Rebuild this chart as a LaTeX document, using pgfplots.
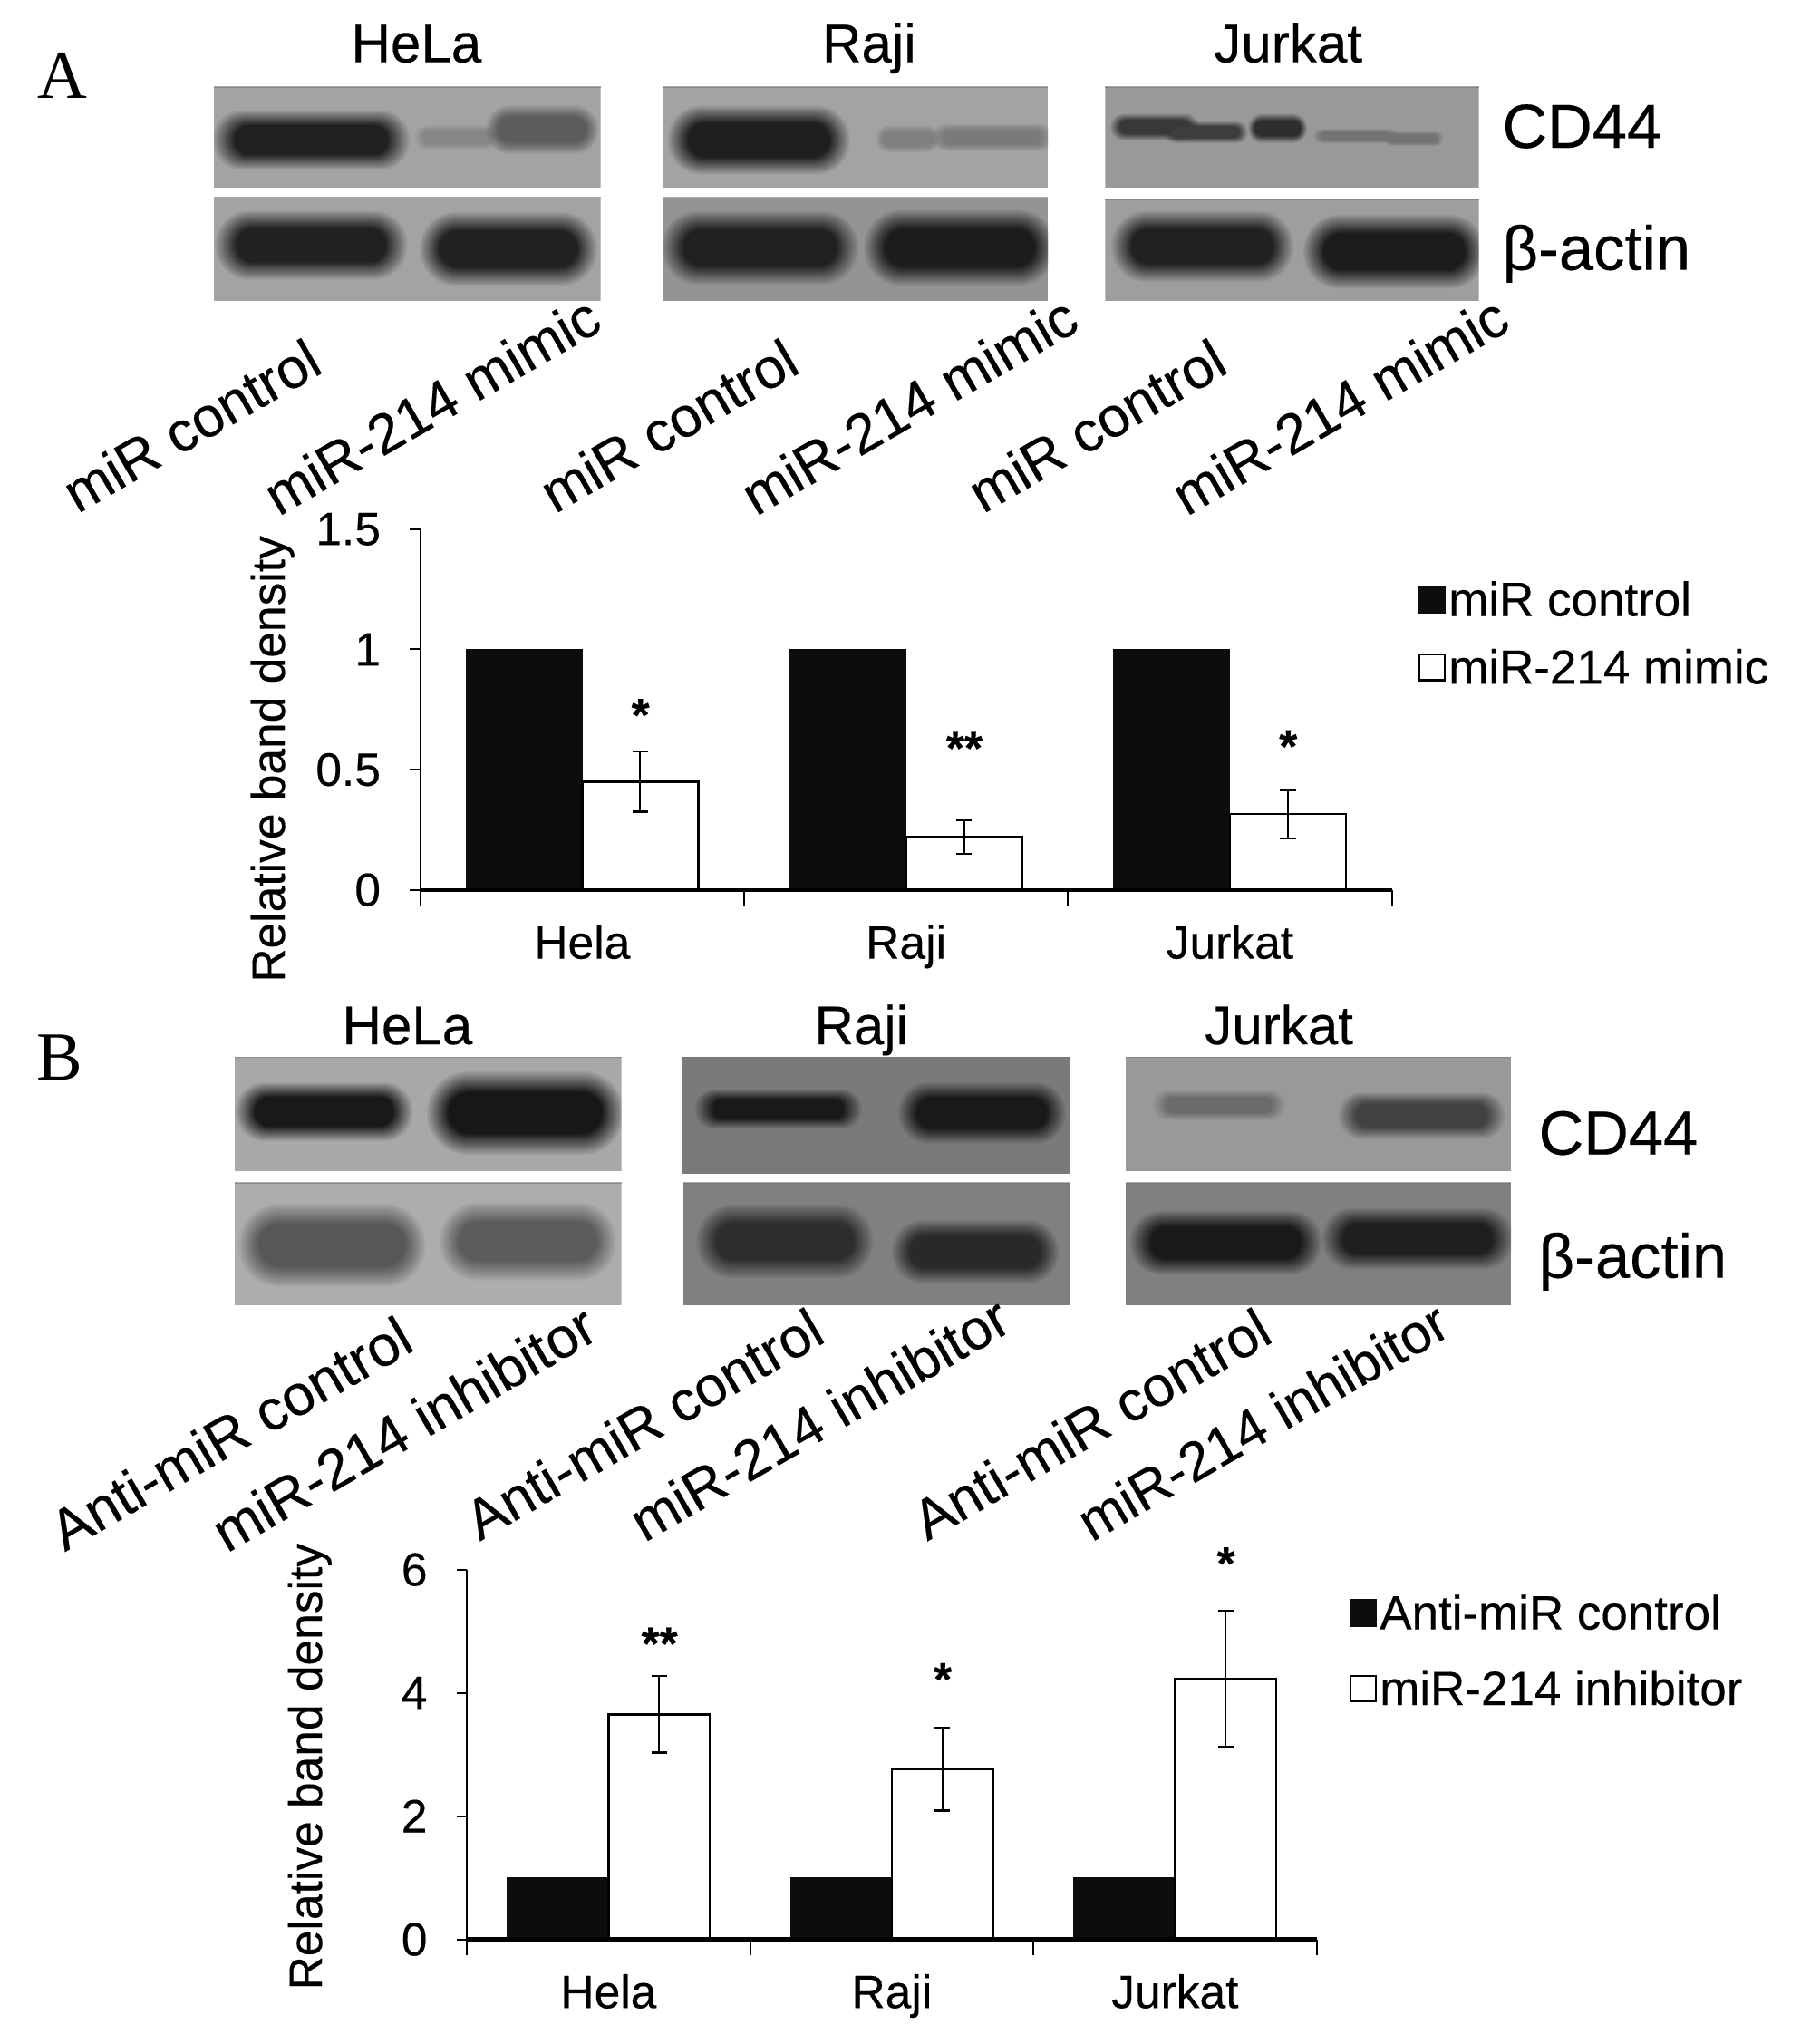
\documentclass[border=0pt]{standalone}
\usepackage{fontspec}
\setmainfont{Liberation Sans}[FakeBold=0.25]
\newfontfamily\serifA{Liberation Serif}
\usepackage{pgfplots}
\pgfplotsset{compat=1.18}
\newcommand\fa{\fontsize{36}{40}\selectfont}
\newcommand\fl{\fontsize{37}{40}\selectfont}
\definecolor{barblack}{gray}{0.05}
\definecolor{bandc}{gray}{0.15}
\definecolor{bgc}{gray}{0.62}
% x1 y1 x2 y2 background bands
\newcommand\blot[6]{%
  \definecolor{bgc}{gray}{#5}%
  \begin{scope}
    \clip (#1,#2) rectangle (#3,#4);
    \fill[bgc] (#1,#2) rectangle (#3,#4);
    #6
  \end{scope}
  \draw[black!55,line width=1pt,opacity=.6] (#1,#2) -- (#3,#2);
}
% a soft band: nested translucent pills, centre x y, half-width, half-height, grey
\newcommand\band[5]{%
  \definecolor{bandc}{gray}{#5}%
  \foreach \k in {1,...,16}{%
    \pgfmathsetmacro\tt{(\k-1)/15}%
    \pgfmathsetmacro\rxk{0.95*#3*(1-0.22*\tt)}%
    \pgfmathsetmacro\ryk{0.95*#4*(1-0.5*\tt)}%
    \pgfmathsetmacro\aa{1/(17-\k)}%
    \pgfmathsetmacro\rc{0.98*\ryk}%
    \fill[bandc,opacity=\aa,rounded corners=\rc pt] (#1-\rxk,#2-\ryk) rectangle (#1+\rxk,#2+\ryk);
  }%
}
\pgfplotsset{
  chart/.style={
    scale only axis, clip=false, axis on top,
    axis x line*=bottom, axis y line*=left,
    font=\fa, tick label style={font=\fa},
    /pgf/number format/assume math mode=true,
    xmin=-0.5, xmax=2.5, ymin=0,
    xtick={0,1,2}, xticklabels={Hela,Raji,Jurkat},
    minor xtick={-0.5,0.5,1.5,2.5},
    tick align=outside, major tick length=8pt, minor tick length=12pt,
    x tick style={draw=none},
    minor x tick style={draw=black,line width=1.4pt},
    y tick style={draw=black,line width=1.4pt},
    x axis line style={line width=3pt,-},
    y axis line style={line width=1.4pt,-},
    xticklabel style={anchor=base,yshift=-45pt},
    yticklabel style={xshift=-19pt},
    ybar=0pt,
  },
  leg/.style={legend image code/.code={\draw[##1,line width=1.6pt] (0pt,-10pt) rectangle (20pt,10pt);}},
  blackbar/.style={fill=barblack,draw=barblack,line width=0pt,leg},
  whitebar/.style={fill=white,draw=black,line width=1.8pt,leg,
    error bars/.cd,y dir=both,y explicit,
    error bar style={line width=1.5pt},
    error mark options={rotate=90,mark size=6pt,line width=1.5pt}},
}
\begin{document}
\begin{tikzpicture}
\path[use as bounding box] (0pt,0pt) rectangle (1403pt,1568pt);
\begin{scope}[x=1pt,y=-1pt,yshift=1568pt]
% panel letters
\node[font=\serifA\fontsize{53}{55}\selectfont] at (48,58) {A};
\node[font=\serifA\fontsize{53}{55}\selectfont] at (46,815) {B};
% top labels
\foreach \x/\t in {321/HeLa,670/Raji,993/Jurkat}
  \node[font=\fontsize{42}{44}\selectfont,anchor=base] at (\x,48) {\t};
\foreach \x/\t in {314/HeLa,664/Raji,986/Jurkat}
  \node[font=\fontsize{42}{44}\selectfont,anchor=base] at (\x,805) {\t};
\node[font=\fontsize{48}{50}\selectfont,anchor=base west,inner sep=0pt] at (1158,114) {CD44};
\node[font=\fontsize{48}{50}\selectfont,anchor=base west,inner sep=0pt] at (1158,208) {β-actin};
\node[font=\fontsize{48}{50}\selectfont,anchor=base west,inner sep=0pt] at (1186,890) {CD44};
\node[font=\fontsize{48}{50}\selectfont,anchor=base west,inner sep=0pt] at (1186,985) {β-actin};
% blots A
\blot{165}{67}{463}{145}{0.64}{\band{240}{108}{80}{24}{0.13}\band{352}{106}{34}{10}{0.53}\band{418}{100}{46}{20}{0.36}}
\blot{511}{67}{808}{145}{0.64}{\band{585}{108}{74}{28}{0.12}\band{700}{107}{26}{11}{0.50}\band{765}{106}{50}{11}{0.48}}
\blot{852}{67}{1140}{145}{0.60}{\band{890}{98}{36}{11}{0.22}\band{930}{102}{34}{9}{0.24}\band{985}{99}{24}{12}{0.18}\band{1045}{105}{34}{6}{0.45}\band{1090}{107}{24}{6}{0.45}}
\blot{165}{152}{463}{232}{0.64}{\band{240}{189}{78}{28}{0.13}\band{392}{192}{72}{30}{0.13}}
\blot{511}{152}{808}{232}{0.58}{\band{586}{191}{80}{30}{0.13}\band{740}{191}{78}{31}{0.11}}
\blot{852}{154}{1140}{232}{0.62}{\band{927}{190}{74}{29}{0.13}\band{1075}{194}{74}{30}{0.11}}
% blots B
\blot{181}{815}{479}{903}{0.66}{\band{250}{857}{72}{24}{0.10}\band{405}{858}{80}{34}{0.09}}
\blot{526}{815}{825}{905}{0.48}{\band{600}{855}{68}{16}{0.10}\band{757}{858}{68}{25}{0.10}}
\blot{868}{815}{1165}{903}{0.60}{\band{940}{852}{54}{12}{0.42}\band{1096}{860}{68}{19}{0.26}}
\blot{181}{912}{479}{1006}{0.68}{\band{256}{960}{76}{34}{0.34}\band{407}{957}{72}{32}{0.36}}
\blot{527}{912}{825}{1006}{0.50}{\band{605}{957}{72}{30}{0.18}\band{752}{965}{68}{26}{0.16}}
\blot{868}{912}{1165}{1006}{0.50}{\band{945}{958}{78}{26}{0.10}\band{1093}{955}{78}{25}{0.12}}
% rotated sample labels
\foreach \x/\y/\t in {52/383/miR control,207/385/miR-214 mimic,420/383/miR control,575/385/miR-214 mimic,750/383/miR control,907/385/miR-214 mimic}
  \node[font=\fontsize{43.5}{46}\selectfont,rotate=30,anchor=west,inner sep=0pt] at (\x,\y) {\t};
\foreach \x/\y/\s/\t in {42/1183/44/Anti-miR control,167/1184/44/miR-214 inhibitor,362/1175/43.5/Anti-miR control,489/1176/43.5/miR-214 inhibitor,707/1175/43.5/Anti-miR control,834/1176/42.5/miR-214 inhibitor}
  \node[font=\fontsize{\s}{46}\selectfont,rotate=30,anchor=west,inner sep=0pt] at (\x,\y) {\t};
\end{scope}

% Panel A chart
\begin{axis}[chart, at={(324pt,882pt)}, anchor=south west,
  width=749pt, height=278pt, bar width=89.5pt,
  ymax=1.5, ytick={0,0.5,1,1.5}, yticklabels={0,0.5,1,1.5},
  ylabel={Relative band density},
  y label style={at={(axis description cs:-0.152,0.363)},anchor=center},
  legend style={draw=none,fill=none,at={(1.0267,0.864)},anchor=north west,inner sep=0pt,
    row sep=20pt,font=\fl,nodes={inner sep=2pt}},
  legend cell align=left]
\addplot[blackbar] coordinates {(0,1) (1,1) (2,1)};
\addlegendentry{miR control}
\addplot[whitebar] coordinates {(0,0.45) +- (0,0.125) (1,0.22) +- (0,0.07) (2,0.315) +- (0,0.1)};
\addlegendentry{miR-214 mimic}
\node[font=\bfseries\fa] at (axis cs:0.18,0.727) {*};
\node[font=\bfseries\fa] at (axis cs:1.18,0.59) {**};
\node[font=\bfseries\fa] at (axis cs:2.18,0.597) {*};
\end{axis}

% Panel B chart
\begin{axis}[chart, at={(360pt,73pt)}, anchor=south west,
  width=655pt, height=285pt, bar width=78pt,
  ymax=6, ytick={0,2,4,6},
  ylabel={Relative band density},
  y label style={at={(axis description cs:-0.185,0.467)},anchor=center},
  legend style={draw=none,fill=none,at={(1.038,0.94)},anchor=north west,inner sep=0pt,
    row sep=26pt,font=\fl,nodes={inner sep=2pt}},
  legend cell align=left]
\addplot[blackbar] coordinates {(0,1) (1,1) (2,1)};
\addlegendentry{Anti-miR control}
\addplot[whitebar] coordinates {(0,3.65) +- (0,0.62) (1,2.76) +- (0,0.67) (2,4.23) +- (0,1.1)};
\addlegendentry{miR-214 inhibitor}
\node[font=\bfseries\fa] at (axis cs:0.18,4.80) {**};
\node[font=\bfseries\fa] at (axis cs:1.18,4.22) {*};
\node[font=\bfseries\fa] at (axis cs:2.18,6.10) {*};
\end{axis}
\end{tikzpicture}
\end{document}
